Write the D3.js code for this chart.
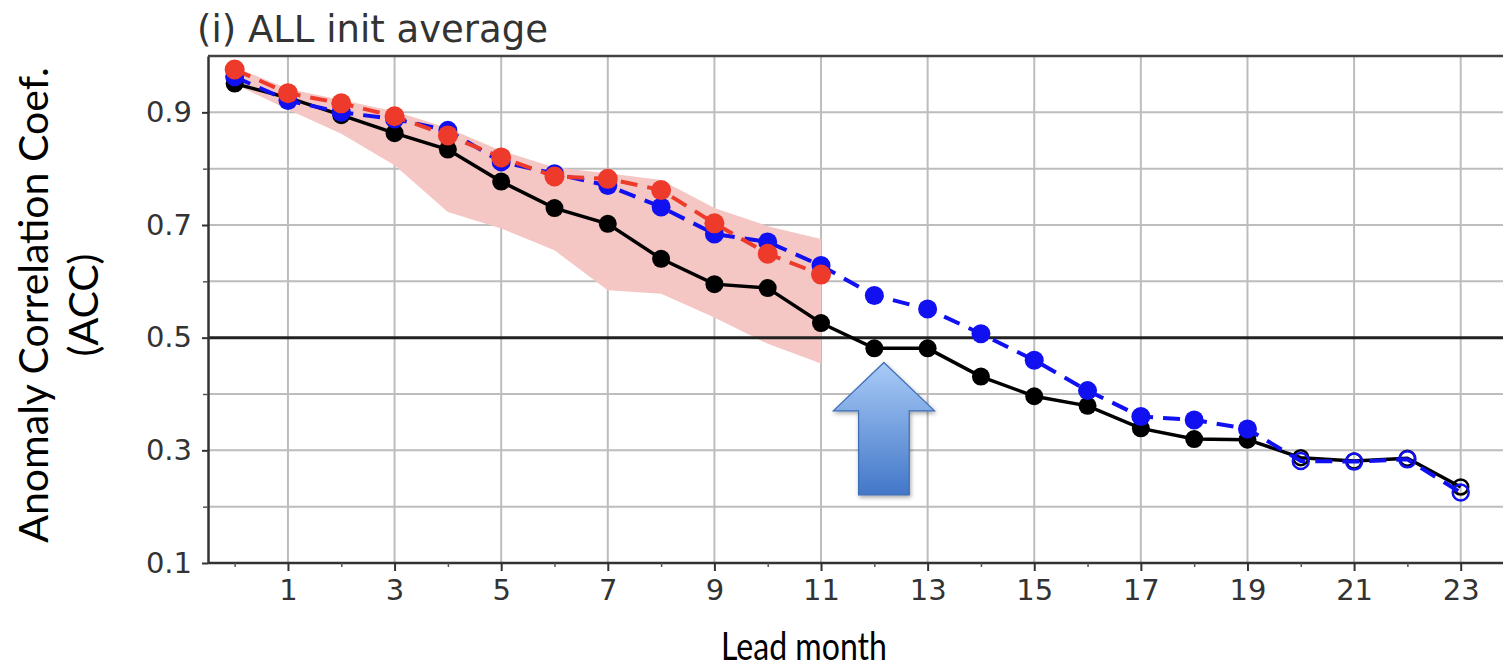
<!DOCTYPE html>
<html>
<head>
<meta charset="utf-8">
<script src="https://cdn.jsdelivr.net/npm/d3@7"></script>
<style>
  body { margin: 0; background: #fff; }
  .tick text { font-family: "DejaVu Sans", sans-serif; fill: #333; }
  .lbl { font-family: Lato, "Open Sans", sans-serif; fill: #000; }
</style>
</head>
<body>
<div id="chart"></div>
<script>
/* ACC vs lead month */

const width = 1503, height = 667;

// lead months 0..23
const months = d3.range(0, 24);

// black solid (all months)
const accBlack = [0.951, 0.926, 0.895, 0.863, 0.834, 0.777, 0.730, 0.702, 0.640, 0.595, 0.588, 0.526,
                  0.481, 0.481, 0.431, 0.396, 0.379, 0.339, 0.320, 0.319, 0.287, 0.281, 0.286, 0.235];
// blue dashed (all months)
const accBlue = [0.963, 0.921, 0.900, 0.888, 0.868, 0.812, 0.791, 0.770, 0.732, 0.684, 0.670, 0.628,
                 0.575, 0.551, 0.507, 0.460, 0.406, 0.360, 0.354, 0.338, 0.281, 0.280, 0.284, 0.225];
// red dashed (months 0..11)
const accRed = [0.976, 0.934, 0.916, 0.893, 0.859, 0.820, 0.786, 0.782, 0.762, 0.703, 0.649, 0.612];
// shaded spread (months 0..11)
const bandLow = [0.950, 0.905, 0.862, 0.806, 0.723, 0.694, 0.655, 0.584, 0.578, 0.536, 0.489, 0.454];
const bandHigh = [0.980, 0.942, 0.922, 0.902, 0.872, 0.832, 0.802, 0.792, 0.780, 0.730, 0.698, 0.675];
// months from which markers are drawn hollow
const hollowFrom = 20;

const xMajor = [1, 3, 5, 7, 9, 11, 13, 15, 17, 19, 21, 23];
const xMinor = [0, 2, 4, 6, 8, 10, 12, 14, 16, 18, 20, 22];
const yMajor = [0.1, 0.3, 0.5, 0.7, 0.9];
const yMinor = [0.2, 0.4, 0.6, 0.8];

const svg = d3.select("#chart")
    .append("svg")
    .attr("width", width)
    .attr("height", height)
    .attr("viewBox", [0, 0, width, height]);

svg.append("rect").attr("width", width).attr("height", height).attr("fill", "#fff");

let x = d3.scaleLinear().domain([-0.5, 24]).range([208, 1514]);
let y = d3.scaleLinear().domain([0.1, 1.0]).range([563, 56]);

const pLeft = x(-0.5), pRight = width, pTop = y(1.0), pBottom = y(0.1);

/* grid */
const grid = svg.append("g");
grid.selectAll(".vg").data(xMajor).join("line")
    .attr("x1", d => x(d)).attr("x2", d => x(d))
    .attr("y1", pTop).attr("y2", pBottom)
    .attr("stroke", "#bdbdbd").attr("stroke-width", 2);
grid.selectAll(".hg").data(yMajor.concat(yMinor).filter(d => d !== 0.5 && d !== 0.1)).join("line")
    .attr("x1", pLeft).attr("x2", pRight)
    .attr("y1", d => y(d)).attr("y2", d => y(d))
    .attr("stroke", "#bdbdbd").attr("stroke-width", 2);

/* shaded band */
svg.append("path")
    .datum(bandLow.map((d, i) => ({m: months[i], lo: d, hi: bandHigh[i]})))
    .attr("fill", "#f4c6c4")
    .attr("d", d3.area().x(d => x(d.m)).y0(d => y(d.lo)).y1(d => y(d.hi)));

/* 0.5 reference line */
svg.append("line")
    .attr("x1", pLeft).attr("x2", pRight)
    .attr("y1", y(0.5)).attr("y2", y(0.5))
    .attr("stroke", "#222").attr("stroke-width", 3);

/* axes */
svg.append("g")
    .attr("transform", `translate(0,${pBottom})`)
    .call(d3.axisBottom(x).tickValues(xMajor).tickSize(8).tickPadding(8).tickSizeOuter(0))
    .call(g => g.select(".domain").attr("stroke", "#333").attr("stroke-width", 2.5).attr("d", `M${pLeft},0H${pRight}`))
    .call(g => g.selectAll(".tick line").attr("stroke", "#333").attr("stroke-width", 2))
    .call(g => g.selectAll(".tick text").attr("font-size", 29));
svg.append("g")
    .attr("transform", `translate(0,${pBottom})`)
    .call(d3.axisBottom(x).tickValues(xMinor).tickSize(4).tickFormat(""))
    .call(g => g.select(".domain").remove())
    .call(g => g.selectAll(".tick line").attr("stroke", "#555").attr("stroke-width", 1.5));

svg.append("g")
    .attr("transform", `translate(${pLeft},0)`)
    .call(d3.axisLeft(y).tickValues(yMajor).tickFormat(d3.format(".1f")).tickSize(6).tickPadding(10).tickSizeOuter(0))
    .call(g => g.select(".domain").attr("stroke", "#333").attr("stroke-width", 2.5))
    .call(g => g.selectAll(".tick line").attr("stroke", "#333").attr("stroke-width", 2))
    .call(g => g.selectAll(".tick text").attr("font-size", 29));
svg.append("g")
    .attr("transform", `translate(${pLeft},0)`)
    .call(d3.axisLeft(y).tickValues(yMinor).tickSize(5).tickFormat(""))
    .call(g => g.select(".domain").remove())
    .call(g => g.selectAll(".tick line").attr("stroke", "#555").attr("stroke-width", 1.5));

// top spine
svg.append("line")
    .attr("x1", pLeft).attr("x2", pRight)
    .attr("y1", pTop).attr("y2", pTop)
    .attr("stroke", "#444").attr("stroke-width", 2.5);

/* series */
function series(values, color, dash, r, lw) {
    let pts = values.map((v, i) => ({m: months[i], v: v}));
    let line = d3.line().x(d => x(d.m)).y(d => y(d.v));
    svg.append("path")
        .datum(pts)
        .attr("d", line)
        .attr("fill", "none")
        .attr("stroke", color)
        .attr("stroke-width", lw)
        .attr("stroke-dasharray", dash);
    svg.append("g").selectAll("circle").data(pts).join("circle")
        .attr("cx", d => x(d.m)).attr("cy", d => y(d.v))
        .attr("r", d => d.m >= hollowFrom ? r - 1.5 : r)
        .attr("fill", d => d.m >= hollowFrom ? "none" : color)
        .attr("stroke", color)
        .attr("stroke-width", d => d.m >= hollowFrom ? 2.5 : 0);
}

series(accBlack, "#000", null, 9, 3.5);
series(accBlue, "#1010f0", "17,10", 9.5, 4);
series(accRed, "#ee3a2a", "17,10", 10, 4);

/* title */
svg.append("text")
    .attr("x", 197).attr("y", 42)
    .attr("font-family", "DejaVu Sans, sans-serif")
    .attr("font-size", 37)
    .attr("fill", "#333")
    .text("(i) ALL init average");

/* labels */
svg.append("text")
    .attr("class", "lbl")
    .attr("text-anchor", "middle")
    .attr("x", 804)
    .attr("y", 660)
    .attr("font-size", 38)
    .attr("textLength", 166)
    .attr("lengthAdjust", "spacingAndGlyphs")
    .text("Lead month");

const yl = svg.append("text")
    .attr("class", "lbl")
    .attr("text-anchor", "middle")
    .attr("font-size", 41)
    .attr("transform", `translate(0,${(70 + 540) / 2}) rotate(-90)`);
yl.append("tspan").attr("x", 0).attr("y", 48).text("Anomaly Correlation Coef.");
yl.append("tspan").attr("x", 0).attr("y", 98).text("(ACC)");

/* arrow annotation */
const arrow = {month: 12.18, tip: 0.456, neck: 0.37, base: 0.221, head: 0.95, shaft: 0.475};
const defs = svg.append("defs");
const grad = defs.append("linearGradient").attr("id", "ag").attr("x1", 0).attr("x2", 0).attr("y1", 0).attr("y2", 1);
grad.append("stop").attr("offset", "0%").attr("stop-color", "#a9cbf7");
grad.append("stop").attr("offset", "100%").attr("stop-color", "#4277c8");
const sh = defs.append("filter").attr("id", "sh").attr("x", "-20%").attr("y", "-20%").attr("width", "140%").attr("height", "140%");
sh.append("feDropShadow").attr("dx", 1).attr("dy", 2).attr("stdDeviation", 2).attr("flood-opacity", 0.35);

const ap = [
    [arrow.month, arrow.tip],
    [arrow.month + arrow.head, arrow.neck],
    [arrow.month + arrow.shaft, arrow.neck],
    [arrow.month + arrow.shaft, arrow.base],
    [arrow.month - arrow.shaft, arrow.base],
    [arrow.month - arrow.shaft, arrow.neck],
    [arrow.month - arrow.head, arrow.neck]
];
svg.append("path")
    .attr("d", d3.line().x(d => x(d[0])).y(d => y(d[1])).curve(d3.curveLinearClosed)(ap))
    .attr("fill", "url(#ag)")
    .attr("stroke", "#3d6db5")
    .attr("stroke-width", 1.2)
    .attr("filter", "url(#sh)");
</script>
</body>
</html>
